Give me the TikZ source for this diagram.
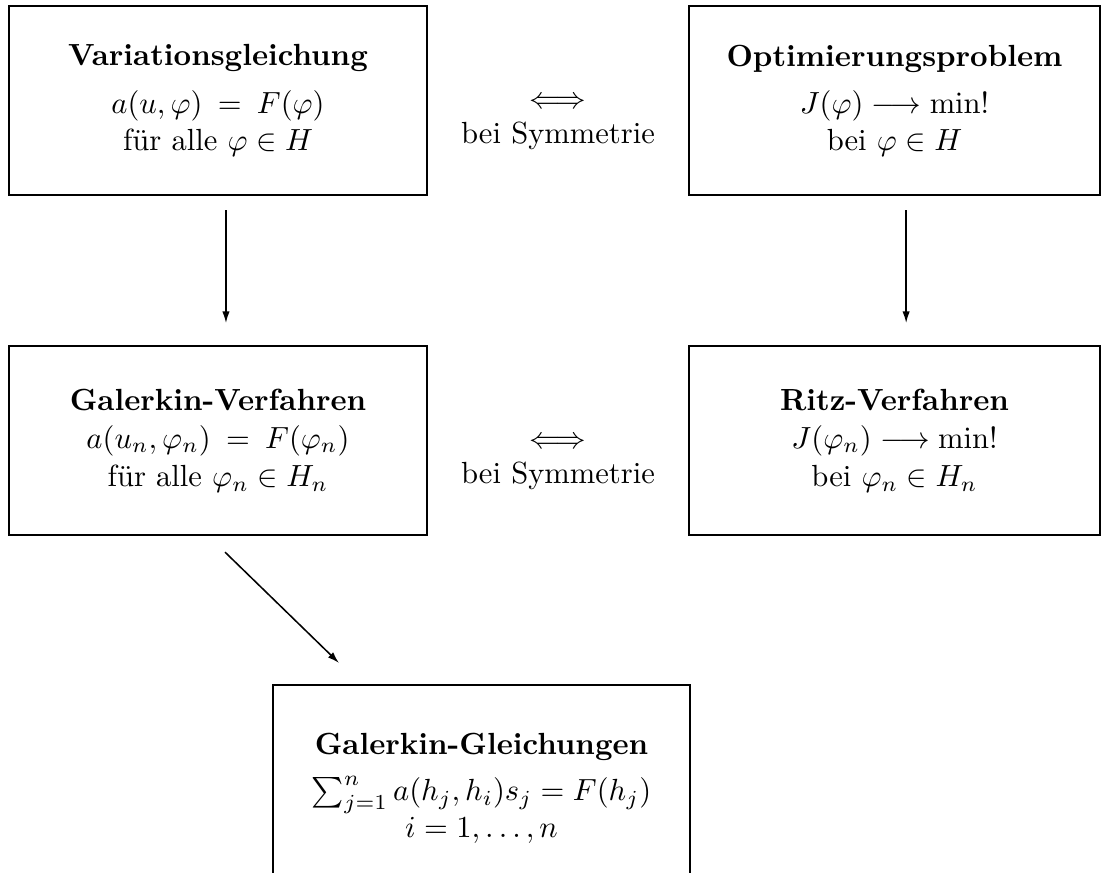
\documentclass[tikz,border=0pt]{standalone}
\usetikzlibrary{arrows.meta}
\begin{document}
\begin{tikzpicture}[x=0.327pt,y=-0.327pt,
  box/.style={draw,line width=0.8pt,align=center,inner sep=0pt,outer sep=0pt,minimum height=61.8pt},
  arr/.style={line width=0.5pt,-{Latex[length=3.8pt,width=2.4pt]}},
  lbl/.style={inner sep=0pt,outer sep=0pt}]
\useasboundingbox (0,0) rectangle (1102,872);
\node[box,minimum width=136.7pt] (tl) at (218,100.5)
  {\textbf{Variationsgleichung}\\[3.7pt]
   $a(u,\varphi)\hspace{5pt}{=}\hspace{5pt}F(\varphi)$\\
   f\"ur alle $\varphi\in H$};
\node[box,minimum width=134.4pt] (tr) at (894.5,100.5)
  {\textbf{Optimierungsproblem}\\[3.4pt]
   $J(\varphi)\longrightarrow\min!$\\
   bei $\varphi\in H$};
\node[box,minimum width=136.7pt] (ml) at (218,440.5)
  {\textbf{Galerkin-Verfahren}\\[0.5pt]
   $a(u_n,\varphi_n)\hspace{5pt}{=}\hspace{5pt}F(\varphi_n)$\\[0.5pt]
   f\"ur alle $\varphi_n\in H_n$};
\node[box,minimum width=134.4pt] (mr) at (894.5,440.5)
  {\textbf{Ritz-Verfahren}\\[0.5pt]
   $J(\varphi_n)\longrightarrow\min!$\\[0.5pt]
   bei $\varphi_n\in H_n$};
\node[box,minimum width=136.4pt,minimum height=67.7pt] (bt) at (481.5,788.5)
  {\textbf{Galerkin-Gleichungen}\\[3pt]
   $\sum_{j=1}^n a(h_j,h_i)s_j = F(h_j)$\\
   $i=1,\ldots,n$};
\node[lbl] (s1a) at (558,103) {$\Longleftrightarrow$};
\node[lbl,anchor=base] (s1b) at (558,143) {bei Symmetrie};
\node[lbl] (s2a) at (558,443) {$\Longleftrightarrow$};
\node[lbl,anchor=base] (s2b) at (558,483) {bei Symmetrie};
\draw[arr] ([xshift=2.6pt,yshift=-4.9pt]tl.south) -- ([xshift=2.6pt,yshift=7.5pt]ml.north);
\draw[arr] ([xshift=3.8pt,yshift=-4.9pt]tr.south) -- ([xshift=3.8pt,yshift=7.5pt]mr.north);
\draw[arr] ([xshift=2.3pt,yshift=-5.6pt]ml.south) -- ([xshift=-46.6pt,yshift=7.2pt]bt.north);
\end{tikzpicture}
\end{document}
